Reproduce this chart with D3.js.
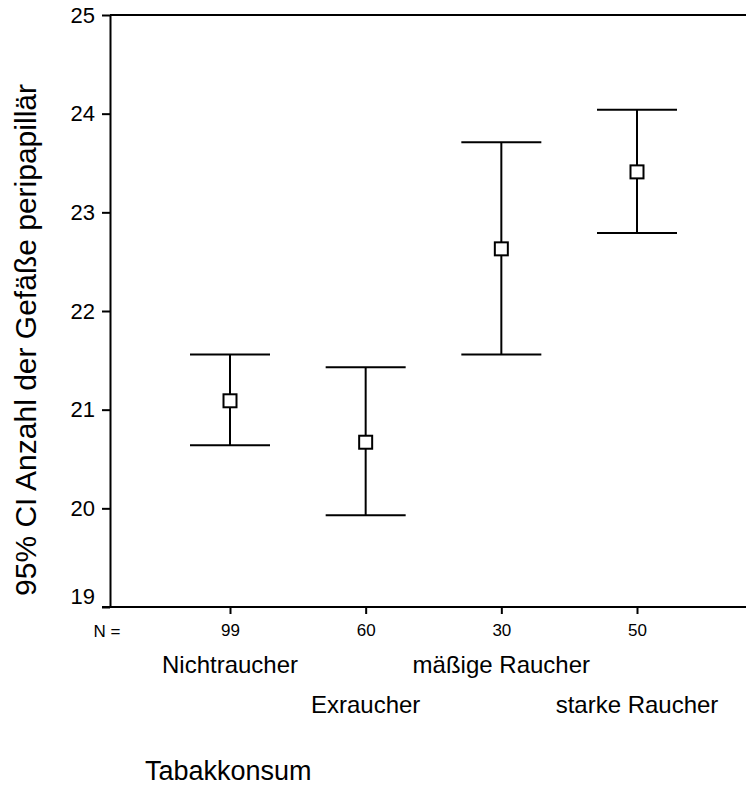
<!DOCTYPE html>
<html>
<head>
<meta charset="utf-8">
<script src="https://cdn.jsdelivr.net/npm/d3@7"></script>
<style>
body{margin:0;background:#fff;}
text{font-family:"Liberation Sans",Arial,Helvetica,sans-serif;fill:#000;}
</style>
</head>
<body>
<div id="chart"></div>
<script>
// groups and their values (95% CI)
var groups = ["Nichtraucher","Exraucher","mäßige Raucher","starke Raucher"];
var nValues = [99,60,30,50];
var means = [21.09,20.67,22.63,23.41];
var lower = [20.64,19.93,21.56,22.79];
var upper = [21.56,21.43,23.71,24.04];
var yTicks = [19,20,21,22,23,24,25];

var w = 746, h = 797;
var plot = {left:110, right:746, top:15, bottom:607};

var svg = d3.select("#chart").append("svg")
  .attr("width", w).attr("height", h);

var y = d3.scaleLinear().domain([19,25]).range([plot.bottom, plot.top]);
var x = d3.scalePoint().domain(groups).range([230, 637]);

// frame lines
svg.append("line").attr("x1", plot.left).attr("x2", plot.right).attr("y1", plot.top).attr("y2", plot.top)
  .attr("stroke", "#000").attr("stroke-width", 2);
svg.append("line").attr("x1", plot.left - 8).attr("x2", plot.right).attr("y1", plot.bottom).attr("y2", plot.bottom)
  .attr("stroke", "#000").attr("stroke-width", 2);

var yAxis = d3.axisLeft(y).tickValues(yTicks).tickFormat(d3.format("d"))
  .tickSize(8).tickSizeOuter(0).tickPadding(7);
var gy = svg.append("g").attr("transform", "translate(" + plot.left + ",0)").call(yAxis);
gy.selectAll("path, line").attr("stroke", "#000").attr("stroke-width", 2);
gy.selectAll("text").style("font-size", "22px").attr("font-family", null);
// lowest label sits a bit above its tick, as in the original
gy.selectAll(".tick").filter(function(d){ return d == 19; }).select("text").attr("y", -11);

var xAxis = d3.axisBottom(x).tickSize(7).tickSizeOuter(0).tickPadding(10)
  .tickFormat(function(d, i){ return nValues[i]; });
var gx = svg.append("g").attr("transform", "translate(0," + plot.bottom + ")").call(xAxis);
gx.select(".domain").remove();
gx.selectAll("line").attr("stroke", "#000").attr("stroke-width", 2);
gx.selectAll("text").style("font-size", "17px").attr("font-family", null);

svg.append("text").text("N =")
  .attr("x", 107).attr("y", 637).attr("text-anchor", "middle").style("font-size", "17px");

// category labels, staggered in two rows
svg.selectAll(".cat").data(groups).enter().append("text")
  .attr("class", "cat")
  .text(function(d){ return d; })
  .attr("x", function(d){ return x(d); })
  .attr("y", function(d, i){ return i % 2 == 0 ? 673 : 713; })
  .attr("text-anchor", "middle")
  .style("font-size", "24px");

// error bars
var bars = svg.append("g");
groups.forEach(function(g, i){
  var cx = x(g);
  bars.append("line").attr("x1", cx).attr("x2", cx)
    .attr("y1", y(upper[i])).attr("y2", y(lower[i]))
    .attr("stroke", "#000").attr("stroke-width", 2);
  [upper[i], lower[i]].forEach(function(v){
    bars.append("line").attr("x1", cx - 40).attr("x2", cx + 40)
      .attr("y1", y(v)).attr("y2", y(v))
      .attr("stroke", "#000").attr("stroke-width", 2);
  });
  bars.append("rect").attr("x", cx - 6.5).attr("y", y(means[i]) - 6.5)
    .attr("width", 13).attr("height", 13)
    .attr("fill", "#fff").attr("stroke", "#000").attr("stroke-width", 2);
});

// axis titles
svg.append("text").text("95% CI Anzahl der Gefäße peripapillär")
  .attr("transform", "translate(36,340) rotate(-90)")
  .attr("text-anchor", "middle")
  .style("font-size", "30px");

svg.append("text").text("Tabakkonsum")
  .attr("x", 145).attr("y", 780)
  .style("font-size", "27px");
</script>
</body>
</html>
